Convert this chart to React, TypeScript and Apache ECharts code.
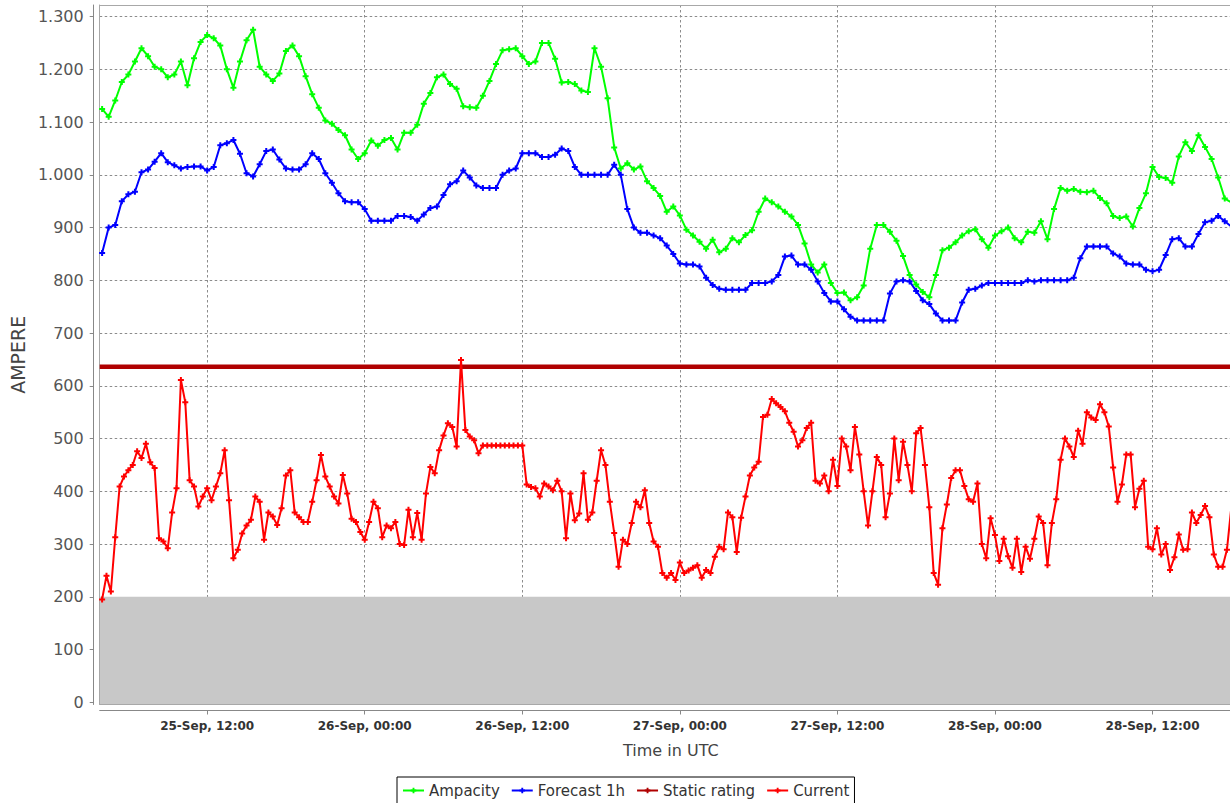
import React, { useEffect, useRef } from "react";
import * as echarts from "echarts";

const YEAR = 2017;
const START = Date.UTC(YEAR, 8, 25, 4, 0);
const AXIS_MIN = Date.UTC(YEAR, 8, 25, 3, 49);
const AXIS_MAX = Date.UTC(YEAR, 8, 28, 17, 54);
const Y_MIN = -4.2;
const Y_MAX = 1322;

const yTicks = [0, 100, 200, 300, 400, 500, 600, 700, 800, 900, 1000, 1100, 1200, 1300];
const xTicks = [
  Date.UTC(YEAR, 8, 25, 12),
  Date.UTC(YEAR, 8, 26, 0),
  Date.UTC(YEAR, 8, 26, 12),
  Date.UTC(YEAR, 8, 27, 0),
  Date.UTC(YEAR, 8, 27, 12),
  Date.UTC(YEAR, 8, 28, 0),
  Date.UTC(YEAR, 8, 28, 12),
];
const MONTHS = ["Jan", "Feb", "Mar", "Apr", "May", "Jun", "Jul", "Aug", "Sep", "Oct", "Nov", "Dec"];

const seriesNames = ["Ampacity", "Forecast 1h", "Static rating", "Current"];
const seriesColors = ["#00ff00", "#0000ff", "#b00000", "#ff0000"];

// every 30 minutes from 25-Sep 04:00
const ampacity = [
  1125, 1110, 1141, 1176, 1190, 1215, 1240, 1225, 1205, 1200,
  1185, 1190, 1215, 1170, 1221, 1252, 1265, 1259, 1245, 1200,
  1165, 1215, 1255, 1275, 1205, 1190, 1178, 1192, 1235, 1245,
  1225, 1187, 1153, 1127, 1103, 1097, 1085, 1075, 1048, 1030,
  1041, 1065, 1055, 1066, 1070, 1048, 1080, 1080, 1095, 1135,
  1155, 1185, 1190, 1172, 1163, 1130, 1128, 1127, 1150, 1178,
  1210, 1236, 1238, 1240, 1225, 1210, 1215, 1250, 1250, 1220,
  1175, 1176, 1172, 1160, 1157, 1240, 1205, 1145, 1052, 1012,
  1022, 1010, 1016, 988, 975, 960, 930, 940, 923, 896,
  885, 873, 860, 877, 853, 860, 880, 872, 886, 895,
  930, 955, 948, 940, 930, 921, 905, 870, 830, 815,
  830, 795, 776, 777, 762, 768, 790, 860, 905, 905,
  892, 875, 846, 810, 792, 778, 768, 810, 857, 862,
  872, 885, 893, 897, 878, 862, 885, 893, 900, 880,
  872, 892, 890, 912, 878, 935, 975, 970, 973, 968,
  967, 970, 956, 946, 922, 918, 921, 902, 937, 965,
  1015, 996, 994, 985, 1035, 1062, 1045, 1075, 1053, 1030,
  995, 955, 948, 940,
];

// every 30 minutes from 25-Sep 04:00
const forecast1h = [
  852, 900, 905, 950, 963, 968, 1005, 1010, 1025, 1041,
  1024, 1018, 1012, 1015, 1016, 1016, 1008, 1015, 1056, 1060,
  1066, 1040, 1003, 997, 1020, 1045, 1048, 1029, 1012, 1010,
  1010, 1020, 1041, 1030, 1003, 985, 965, 950, 948, 948,
  935, 913, 913, 913, 913, 922, 922, 920, 913, 925,
  937, 940, 962, 982, 988, 1008, 995, 980, 975, 975,
  975, 1000, 1008, 1012, 1041, 1041, 1041, 1034, 1034, 1038,
  1050, 1045, 1015, 1000, 1000, 1000, 1000, 1000, 1019, 1000,
  935, 900, 890, 890, 885, 880, 866, 850, 832, 830,
  830, 826, 805, 791, 784, 782, 782, 782, 782, 795,
  795, 795, 798, 810, 845, 847, 830, 830, 820, 798,
  776, 760, 760, 745, 731, 724, 724, 724, 724, 724,
  775, 798, 800, 798, 780, 762, 755, 737, 724, 724,
  724, 758, 782, 784, 790, 795, 795, 795, 795, 795,
  795, 800, 798, 800, 800, 800, 800, 800, 805, 842,
  864, 864, 864, 864, 851, 845, 832, 830, 830, 820,
  817, 820, 848, 878, 880, 864, 864, 888, 910, 913,
  922, 912, 902, 900,
];

// every 20 minutes from 25-Sep 04:00
const current = [
  195, 240, 210, 313, 409, 428, 440, 450, 476, 463, 490, 455,
  444, 311, 305, 292, 360, 406, 611, 569, 421, 409, 371, 390,
  406, 383, 409, 434, 478, 383, 273, 289, 320, 335, 346, 390,
  380, 308, 360, 352, 336, 368, 430, 440, 360, 351, 342, 342,
  380, 421, 469, 428, 409, 390, 377, 431, 396, 348, 342, 323,
  308, 342, 380, 368, 313, 335, 330, 342, 300, 298, 365, 313,
  359, 308, 396, 446, 434, 478, 506, 529, 522, 485, 649, 516,
  504, 497, 472, 487, 487, 487, 487, 487, 487, 487, 487, 487,
  487, 413, 408, 406, 390, 415, 409, 402, 420, 400, 311, 396,
  345, 358, 434, 346, 360, 420, 478, 450, 380, 321, 257, 308,
  300, 340, 380, 370, 402, 340, 305, 295, 245, 236, 245, 232,
  265, 245, 250, 255, 260, 236, 251, 245, 276, 295, 290, 360,
  351, 285, 350, 390, 430, 445, 456, 541, 545, 575, 567, 560,
  552, 530, 513, 485, 497, 520, 530, 420, 415, 430, 400, 460,
  410, 500, 485, 440, 522, 470, 400, 335, 400, 465, 450, 351,
  396, 500, 421, 494, 450, 400, 510, 520, 450, 370, 245, 223,
  330, 375, 425, 440, 440, 410, 385, 380, 415, 300, 273, 349,
  317, 268, 310, 277, 255, 310, 247, 295, 272, 310, 352, 340,
  260, 340, 385, 460, 500, 485, 465, 515, 490, 550, 540, 535,
  565, 550, 523, 445, 380, 413, 470, 470, 370, 405, 420, 295,
  290, 330, 280, 300, 251, 275, 318, 289, 290, 360, 340, 355,
  372, 351, 280, 257, 257, 289, 370, 340, 330,
];

const STATIC_RATING = 636;
const SHADED_TOP = 200;

const PLUS = "path://M2,0H4V2H6V4H4V6H2V4H0V2H2Z";
const FONT = "DejaVu Sans";
const BORDER = "#a8a8a8";
const AXIS_GRAY = "#888";
const GRID_LINE = { color: "#8c8c8c", type: [2.5, 2.5], width: 1 };

const pad2 = (n: number) => (n < 10 ? "0" + n : "" + n);
const fmtY = (v: number) => {
  if (v >= 1000) {
    const th = Math.floor(v / 1000);
    const rest = v % 1000;
    return th + "." + String(rest).padStart(3, "0");
  }
  return String(v);
};
const fmtX = (v: number) => {
  const d = new Date(v);
  return `${d.getUTCDate()}-${MONTHS[d.getUTCMonth()]}, ${pad2(d.getUTCHours())}:${pad2(d.getUTCMinutes())}`;
};

function toPairs(values: number[], stepMinutes: number) {
  return values.map((v, i) => [START + i * stepMinutes * 60000, v]);
}

const borderAxis = (position: string) => ({
  type: "value",
  position,
  offset: 0,
  min: 0,
  max: 1,
  z: 1,
  silent: true,
  axisLine: { show: true, onZero: false, lineStyle: { color: BORDER, width: 1 } },
  axisTick: { show: false },
  axisLabel: { show: false },
  splitLine: { show: false },
});

export default function App() {
  const ref = useRef<HTMLDivElement>(null);
  useEffect(() => {
    document.body.style.margin = "0";
    document.body.style.overflow = "hidden";
    const chart = echarts.init(ref.current!, undefined, { renderer: "svg" });
    const lineSeries = (name: string, color: string, data: any[], extra: any = {}) => ({
      name,
      type: "line",
      data,
      xAxisIndex: 0,
      yAxisIndex: 0,
      symbol: PLUS,
      symbolSize: 6,
      showSymbol: true,
      lineStyle: { color, width: 2 },
      itemStyle: { color },
      z: 2,
      ...extra,
    });
    chart.setOption({
      animation: false,
      backgroundColor: "#ffffff",
      textStyle: { fontFamily: FONT },
      grid: {
        left: 98,
        right: 0,
        top: 5,
        bottom: 98.5,
        show: false,
      },
      legend: {
        left: 397,
        top: 777,
        data: [
          { name: seriesNames[0] },
          { name: seriesNames[1] },
          { name: seriesNames[2], lineStyle: { width: 2 } },
          { name: seriesNames[3] },
        ],
        borderColor: "#000",
        borderWidth: 1,
        padding: [6, 5, 10, 5],
        itemWidth: 21,
        itemHeight: 7,
        itemGap: 11,
        textStyle: { fontSize: 15, color: "#333", fontFamily: FONT },
      },
      xAxis: [
        {
          type: "value",
          position: "bottom",
          min: AXIS_MIN,
          max: AXIS_MAX,
          offset: 6,
          z: 1,
          name: "Time in UTC",
          nameLocation: "middle",
          nameGap: 32,
          nameTextStyle: { fontSize: 16, color: "#444", fontFamily: FONT, padding: [0, 0, 0, 12] },
          axisLine: { show: true, onZero: false, lineStyle: { color: AXIS_GRAY, width: 1 } },
          axisTick: { show: true, length: 4, customValues: xTicks, lineStyle: { color: AXIS_GRAY } },
          axisLabel: {
            customValues: xTicks,
            formatter: (v: number) => fmtX(v),
            fontSize: 12,
            fontWeight: "bold",
            color: "#333",
            margin: 9,
            fontFamily: FONT,
          },
          splitLine: { show: true, lineStyle: GRID_LINE },
        },
        borderAxis("bottom"),
        borderAxis("top"),
      ],
      yAxis: [
        {
          type: "value",
          position: "left",
          min: Y_MIN,
          max: Y_MAX,
          offset: 6,
          z: 1,
          name: "AMPERE",
          nameLocation: "middle",
          nameGap: 63,
          nameTextStyle: { fontSize: 19, color: "#444", fontFamily: FONT },
          axisLine: { show: true, onZero: false, lineStyle: { color: AXIS_GRAY, width: 1 } },
          axisTick: { show: true, length: 4, customValues: yTicks, lineStyle: { color: AXIS_GRAY } },
          axisLabel: {
            customValues: yTicks,
            formatter: (v: number) => fmtY(v),
            fontSize: 16,
            color: "#555",
            margin: 10,
            fontFamily: FONT,
          },
          splitLine: { show: true, lineStyle: GRID_LINE },
        },
        borderAxis("left"),
      ],
      series: [
        {
          name: "shade",
          type: "line",
          data: [],
          xAxisIndex: 0,
          yAxisIndex: 0,
          z: 0.5,
          silent: true,
          markArea: {
            silent: true,
            itemStyle: { color: "#c8c8c8" },
            data: [[{ yAxis: Y_MIN }, { yAxis: SHADED_TOP }]],
          },
        },
        lineSeries(seriesNames[0], seriesColors[0], toPairs(ampacity, 30)),
        lineSeries(seriesNames[1], seriesColors[1], toPairs(forecast1h, 30)),
        lineSeries(
          seriesNames[2],
          seriesColors[2],
          [
            [AXIS_MIN, STATIC_RATING],
            [AXIS_MAX, STATIC_RATING],
          ],
          { showSymbol: false, lineStyle: { color: seriesColors[2], width: 4.5 } }
        ),
        lineSeries(seriesNames[3], seriesColors[3], toPairs(current, 20)),
      ],
    });
    return () => chart.dispose();
  }, []);
  return (
    <div
      ref={ref}
      style={{ position: "absolute", left: 0, top: 0, width: 1230, height: 803 }}
    />
  );
}
